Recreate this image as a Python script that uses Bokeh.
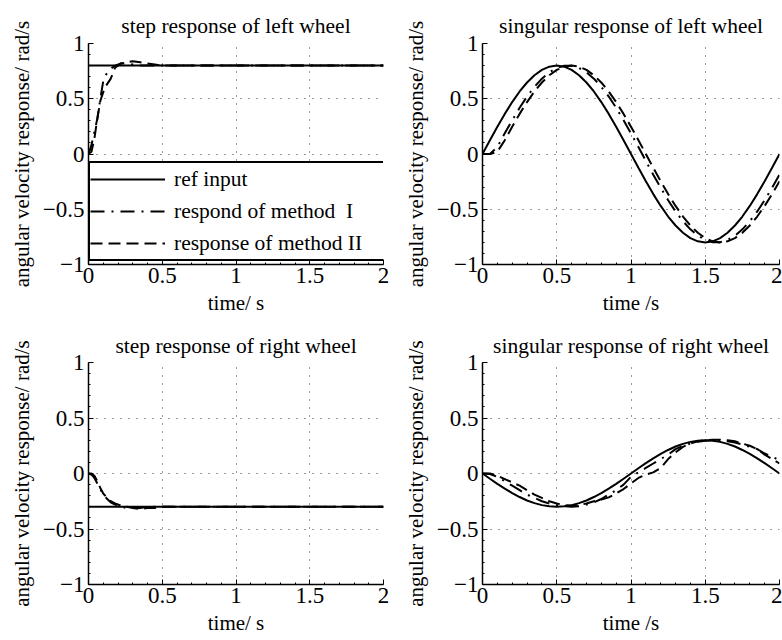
from bokeh.plotting import figure
from bokeh.layouts import column, row
from bokeh.models import Range1d, SingleIntervalTicker, CustomJSTickFormatter, Title
from bokeh.embed import file_html
from bokeh.resources import INLINE

FONT = "Liberation Serif"
FS_TITLE = "21.5px"
FS_TICK = "23px"
FS_LABEL = "21px"
FS_LEGEND = "21.5px"

# ---------------- data ----------------
titles = ["step response of left wheel", "singular response of left wheel",
          "step response of right wheel", "singular response of right wheel"]
xlabels = ["time/ s", "time /s", "time/ s", "time /s"]
ylabel = "angular velocity response/ rad/s"
legend_labels = ["ref input", "respond of method\u00a0 I", "response of method II"]

# step panels
t_ref_step = [0.0, 2.0]
ref_left_step = [0.8, 0.8]
ref_right_step = [-0.3, -0.3]

t_m1_step = [0, 0.02, 0.04, 0.06, 0.08, 0.10, 0.12, 0.15, 0.18, 0.22, 0.26, 0.30, 0.35, 0.40, 0.50, 1.0, 1.5, 2.0]
m1_left_step = [0, 0.08, 0.20, 0.32, 0.50, 0.66, 0.72, 0.77, 0.80, 0.82, 0.82, 0.81, 0.80, 0.80, 0.80, 0.80, 0.80, 0.80]
m1_right_step = [0, -0.01, -0.04, -0.09, -0.14, -0.19, -0.22, -0.26, -0.28, -0.30, -0.31, -0.31, -0.31, -0.30, -0.30, -0.30, -0.30, -0.30]

t_m2_step = [0, 0.02, 0.04, 0.06, 0.08, 0.10, 0.12, 0.15, 0.18, 0.22, 0.26, 0.30, 0.35, 0.40, 0.45, 0.50, 1.0, 1.5, 2.0]
m2_left_step = [0, 0.02, 0.14, 0.32, 0.48, 0.56, 0.62, 0.68, 0.78, 0.82, 0.83, 0.84, 0.83, 0.82, 0.81, 0.80, 0.80, 0.80, 0.80]
m2_right_step = [0, 0.0, -0.02, -0.07, -0.13, -0.18, -0.21, -0.25, -0.27, -0.29, -0.30, -0.31, -0.32, -0.31, -0.31, -0.30, -0.30, -0.30, -0.30]

# sinusoidal panels
t_sine = [0.00, 0.05, 0.10, 0.15, 0.20, 0.25, 0.30, 0.35, 0.40, 0.45,
          0.50, 0.55, 0.60, 0.65, 0.70, 0.75, 0.80, 0.85, 0.90, 0.95,
          1.00, 1.05, 1.10, 1.15, 1.20, 1.25, 1.30, 1.35, 1.40, 1.45,
          1.50, 1.55, 1.60, 1.65, 1.70, 1.75, 1.80, 1.85, 1.90, 1.95, 2.00]

ref_left_sine = [0, 0.125, 0.247, 0.363, 0.470, 0.566, 0.647, 0.713, 0.761, 0.790,
                 0.800, 0.790, 0.761, 0.713, 0.647, 0.566, 0.470, 0.363, 0.247, 0.125,
                 0, -0.125, -0.247, -0.363, -0.470, -0.566, -0.647, -0.713, -0.761, -0.790,
                 -0.800, -0.790, -0.761, -0.713, -0.647, -0.566, -0.470, -0.363, -0.247, -0.125, 0]
m1_left_sine = [0, 0, 0.063, 0.187, 0.306, 0.418, 0.520, 0.608, 0.682, 0.739,
                0.778, 0.798, 0.798, 0.778, 0.739, 0.682, 0.608, 0.520, 0.418, 0.306,
                0.187, 0.063, -0.063, -0.187, -0.306, -0.418, -0.520, -0.608, -0.682, -0.739,
                -0.778, -0.798, -0.798, -0.778, -0.739, -0.682, -0.608, -0.520, -0.418, -0.306, -0.187]
m2_left_sine = [0, 0, 0.02, 0.125, 0.247, 0.363, 0.470, 0.566, 0.647, 0.713,
                0.761, 0.790, 0.800, 0.790, 0.761, 0.713, 0.647, 0.566, 0.470, 0.363,
                0.247, 0.125, 0, -0.125, -0.247, -0.363, -0.470, -0.566, -0.647, -0.713,
                -0.761, -0.790, -0.800, -0.790, -0.761, -0.713, -0.647, -0.566, -0.470, -0.363, -0.247]

ref_right_sine = [0, -0.047, -0.093, -0.136, -0.176, -0.212, -0.243, -0.267, -0.285, -0.296,
                  -0.300, -0.296, -0.285, -0.267, -0.243, -0.212, -0.176, -0.136, -0.093, -0.047,
                  0, 0.047, 0.093, 0.136, 0.176, 0.212, 0.243, 0.267, 0.285, 0.296,
                  0.300, 0.296, 0.285, 0.267, 0.243, 0.212, 0.176, 0.136, 0.093, 0.047, 0]
m1_right_sine = [0, -0.005, -0.03, -0.07, -0.11, -0.15, -0.19, -0.22, -0.25, -0.27,
                 -0.285, -0.295, -0.30, -0.295, -0.28, -0.26, -0.23, -0.19, -0.15, -0.10,
                 -0.03, 0.01, 0.05, 0.09, 0.13, 0.17, 0.22, 0.25, 0.27, 0.285,
                 0.295, 0.30, 0.30, 0.29, 0.28, 0.26, 0.24, 0.22, 0.18, 0.15, 0.12]
m2_right_sine = [0, 0, -0.02, -0.05, -0.08, -0.11, -0.15, -0.19, -0.22, -0.25,
                 -0.27, -0.285, -0.29, -0.285, -0.27, -0.25, -0.235, -0.215, -0.18, -0.14,
                 -0.09, -0.04, -0.01, 0.01, 0.05, 0.13, 0.19, 0.24, 0.27, 0.29,
                 0.30, 0.305, 0.305, 0.30, 0.29, 0.27, 0.25, 0.22, 0.17, 0.13, 0.09]

DASHDOT = "14 7 2 7"
DASHED = "12 6"
LW = 2


def text_title(text, size, standoff):
    return Title(text=text, align="center", text_font=FONT, text_font_size=size,
                 text_font_style="normal", text_color="black", standoff=standoff)


def make_fig(title, xlabel, width, height, bl, br, bt, bb, title_standoff):
    p = figure(width=width, height=height, output_backend="svg", toolbar_location=None,
               x_range=Range1d(0, 2), y_range=Range1d(-1, 1),
               min_border_left=bl, min_border_right=br, min_border_top=bt, min_border_bottom=bb)
    p.outline_line_color = None
    p.background_fill_color = "white"
    p.border_fill_color = "white"
    p.title = text_title(title, FS_TITLE, title_standoff)
    fmt = CustomJSTickFormatter(code=r"""
        const a = Math.round(Math.abs(tick) * 100) / 100;
        const s = String(a);
        return (tick < -1e-9) ? "\u2212" + s : s;
    """)
    for ax in (p.xaxis[0], p.yaxis[0]):
        ax.axis_label = None
        ax.major_label_text_font = FONT
        ax.major_label_text_font_size = FS_TICK
        ax.major_label_text_color = "black"
        ax.axis_line_color = "black"
        ax.axis_line_width = 1.5
        ax.major_tick_in = 5
        ax.major_tick_out = 0
        ax.minor_tick_in = 2
        ax.minor_tick_out = 0
        ax.major_tick_line_color = "black"
        ax.minor_tick_line_color = "black"
        ax.formatter = fmt
    xt = SingleIntervalTicker(interval=0.5, num_minor_ticks=5)
    yt = SingleIntervalTicker(interval=0.5, num_minor_ticks=5)
    p.xaxis.ticker = xt
    p.yaxis.ticker = yt
    p.xgrid.ticker = xt
    p.ygrid.ticker = yt
    p.xaxis.major_label_standoff = 3
    p.yaxis.major_label_standoff = 4
    for g in (p.xgrid[0], p.ygrid[0]):
        g.grid_line_color = "#333333"
        g.grid_line_dash = "1 7"
        g.grid_line_width = 1
    # axis labels as serif titles in the side panels
    p.add_layout(text_title(xlabel, FS_LABEL, 7), "below")
    p.add_layout(text_title(ylabel, FS_LABEL, 11), "left")
    return p


W1, W2 = 391, 391
H1, H2 = 322, 318

p1 = make_fig(titles[0], xlabels[0], W1, H1, 88, 8, 43, 58, 12)
p2 = make_fig(titles[1], xlabels[1], W2, H1, 91, 3, 43, 58, 12)
p3 = make_fig(titles[2], xlabels[2], W1, H2, 88, 8, 40, 56, 10)
p4 = make_fig(titles[3], xlabels[3], W2, H2, 91, 3, 40, 56, 10)

# top-left: step, left wheel (with legend)
p1.line(t_ref_step, ref_left_step, line_color="black", line_width=LW, legend_label=legend_labels[0])
p1.line(t_m1_step, m1_left_step, line_color="black", line_width=LW, line_dash=DASHDOT, legend_label=legend_labels[1])
p1.line(t_m2_step, m2_left_step, line_color="black", line_width=LW, line_dash=DASHED, legend_label=legend_labels[2])

lg = p1.legend[0]
lg.location = (0, 3)
lg.margin = 0
lg.padding = 0
lg.spacing = 0
lg.glyph_width = 75
lg.glyph_height = 32
lg.label_height = 32
lg.label_width = 211
lg.label_standoff = 9
lg.label_text_font = FONT
lg.label_text_font_size = FS_LEGEND
lg.label_text_color = "black"
lg.border_line_color = "black"
lg.border_line_alpha = 1.0
lg.border_line_width = 2
lg.background_fill_color = "white"
lg.background_fill_alpha = 1.0

# top-right: sinusoid, left wheel
p2.line(t_sine, ref_left_sine, line_color="black", line_width=LW)
p2.line(t_sine, m1_left_sine, line_color="black", line_width=LW, line_dash=DASHDOT)
p2.line(t_sine, m2_left_sine, line_color="black", line_width=LW, line_dash=DASHED)

# bottom-left: step, right wheel
p3.line(t_ref_step, ref_right_step, line_color="black", line_width=LW)
p3.line(t_m1_step, m1_right_step, line_color="black", line_width=LW, line_dash=DASHDOT)
p3.line(t_m2_step, m2_right_step, line_color="black", line_width=LW, line_dash=DASHED)

# bottom-right: sinusoid, right wheel
p4.line(t_sine, ref_right_sine, line_color="black", line_width=LW)
p4.line(t_sine, m1_right_sine, line_color="black", line_width=LW, line_dash=DASHDOT)
p4.line(t_sine, m2_right_sine, line_color="black", line_width=LW, line_dash=DASHED)

layout = column(row(p1, p2), row(p3, p4))

with open("out.html", "w", encoding="utf-8") as f:
    f.write(file_html(layout, INLINE))
